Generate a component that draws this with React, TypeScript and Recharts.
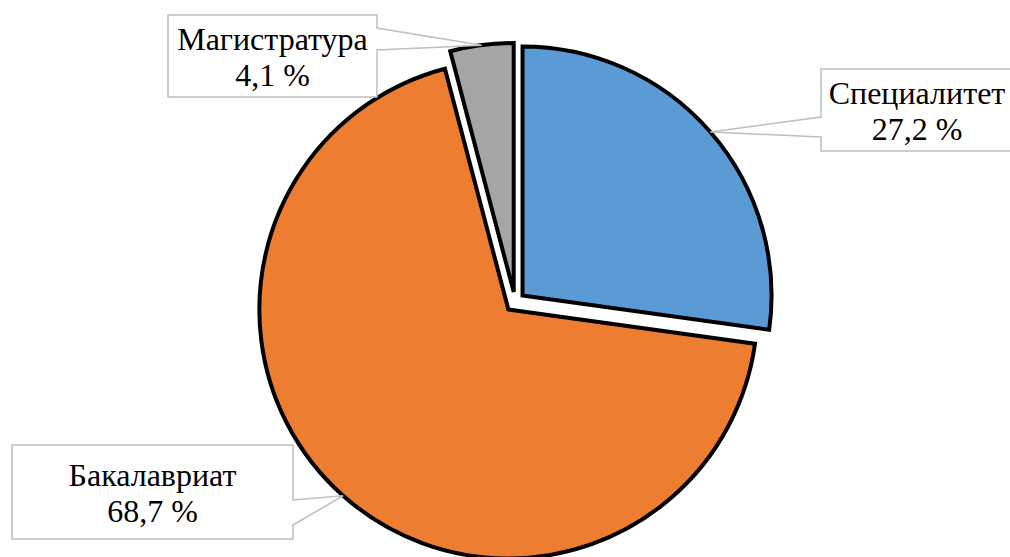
import { PieChart, Pie, Cell } from 'recharts'

const categories = ['Специалитет', 'Бакалавриат', 'Магистратура']
const shares = [27.2, 68.7, 4.1]
const shareLabels = ['27,2 %', '68,7 %', '4,1 %']
const colors = ['#5B9BD5', '#ED7D31', '#A5A5A5']

// callout boxes (x, y, w, h) and the side the pointer leaves from, base points along that side
const callouts = [
  { x: 821, y: 69, w: 192, h: 82, side: 'left', b1: 117, b2: 137 },
  { x: 12, y: 445, w: 281, h: 94, side: 'right', b1: 500, b2: 525 },
  { x: 168, y: 15, w: 209, h: 82, side: 'right', b1: 28, b2: 50 },
]

const data = categories.map((name, i) => ({ name, value: shares[i], label: shareLabels[i] }))

const CX = 515
const CY = 302
const RADIUS = 249
const EXPLODE = 10
const RAD = Math.PI / 180

const total = shares.reduce((a, b) => a + b, 0)
const offsets = shares.map((v, i) => {
  const before = shares.slice(0, i).reduce((a, b) => a + b, 0)
  const mid = 90 - ((before + v / 2) / total) * 360
  return { dx: EXPLODE * Math.cos(mid * RAD), dy: -EXPLODE * Math.sin(mid * RAD) }
})

const textStyle = {
  fontFamily: '"Liberation Serif", "Times New Roman", serif',
  fontSize: '32px',
  fill: '#000000',
}

function renderCallout(target: number) {
  return (props: any) => {
    if (props.index !== target) return null
    const { cx, cy, midAngle, outerRadius } = props
    const tx = cx + outerRadius * Math.cos(-midAngle * RAD)
    const ty = cy + outerRadius * Math.sin(-midAngle * RAD)
    const c = callouts[target]
    const { x, y, w, h, b1, b2 } = c
    let d = ''
    if (c.side === 'left') {
      d = `M${x},${y} H${x + w} V${y + h} H${x} V${b2} L${tx},${ty} L${x},${b1} Z`
    } else {
      d = `M${x},${y} H${x + w} V${b1} L${tx},${ty} L${x + w},${b2} V${y + h} H${x} Z`
    }
    const mx = x + w / 2
    const top = y + h / 2 - 6
    return (
      <g>
        <path d={d} fill="#FFFFFF" stroke="#BFBFBF" strokeWidth={1.5} />
        <text x={mx} y={top} textAnchor="middle" style={textStyle}>
          <tspan x={mx} dy={0}>{categories[target]}</tspan>
          <tspan x={mx} dy={36}>{shareLabels[target]}</tspan>
        </text>
      </g>
    )
  }
}

export default function App() {
  return (
    <div style={{ position: 'absolute', left: 0, top: 0, width: 1010, height: 557, background: '#FFFFFF' }}>
      <PieChart width={1010} height={557} margin={{ top: 0, right: 0, bottom: 0, left: 0 }}>
        {data.map((_, k) => (
          <Pie
            key={k}
            data={data}
            dataKey="value"
            nameKey="name"
            cx={CX + offsets[k].dx}
            cy={CY + offsets[k].dy}
            outerRadius={RADIUS}
            startAngle={90}
            endAngle={-270}
            isAnimationActive={false}
            labelLine={false}
            label={renderCallout(k)}
          >
            {data.map((entry, i) => (
              <Cell
                key={entry.name}
                fill={i === k ? colors[i] : 'none'}
                stroke={i === k ? '#000000' : 'none'}
                strokeWidth={4}
              />
            ))}
          </Pie>
        ))}
      </PieChart>
    </div>
  )
}
